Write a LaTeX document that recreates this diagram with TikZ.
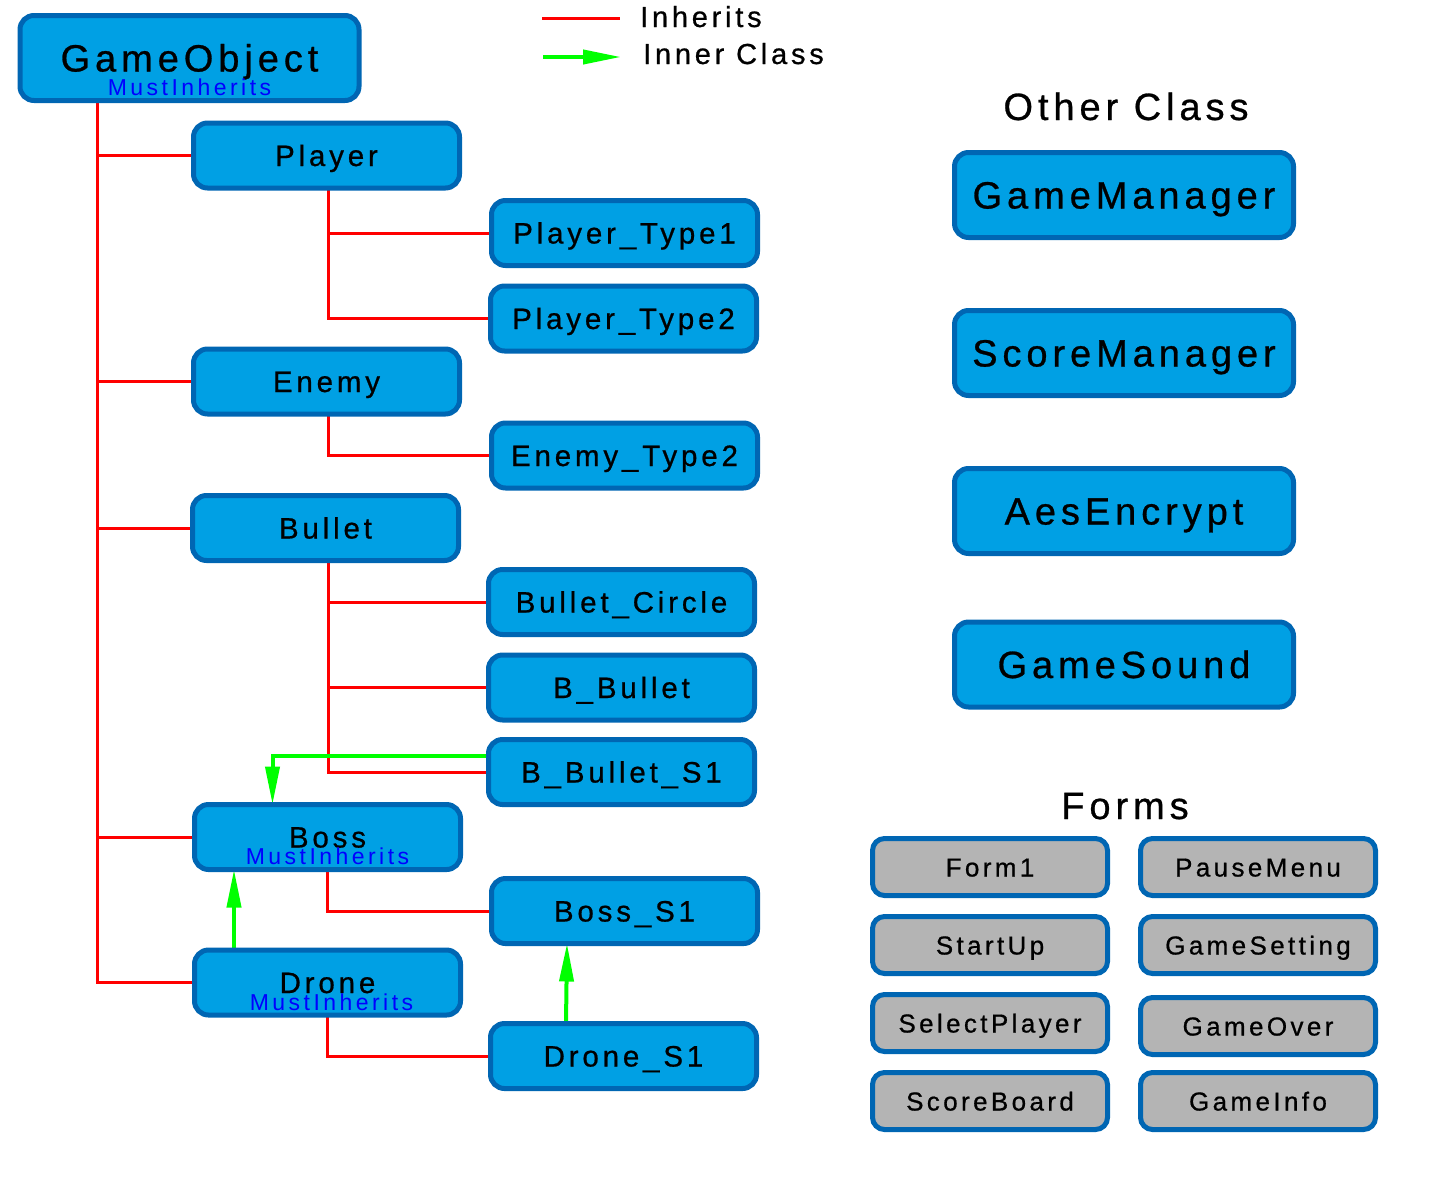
\documentclass[tikz,border=0pt]{standalone}
\usepackage{fontspec}
\setmainfont{Liberation Sans}[LetterSpace=13,FakeBold=0.7]
\newfontfamily\mustfont{Liberation Sans}[LetterSpace=15]
\usetikzlibrary{arrows.meta,backgrounds}
\definecolor{nfill}{RGB}{0,160,228}
\definecolor{nborder}{RGB}{0,102,179}
\definecolor{ffill}{RGB}{180,180,180}
\definecolor{inhred}{RGB}{255,0,0}
\definecolor{innergreen}{RGB}{0,255,0}
\definecolor{mblue}{RGB}{0,0,255}
\begin{document}
\begin{tikzpicture}[x=1pt,y=-1pt,
 classbox/.style={draw=nborder, fill=nfill, line width=5pt, rounded corners=14pt, text depth=0pt, inner sep=0pt, outer sep=0pt},
 subbox/.style={classbox, minimum width=266pt, minimum height=65pt, text height=21pt, font=\fontsize{29.5}{32}\selectfont},
 bigbox/.style={classbox, minimum width=339pt, minimum height=85pt, text height=27pt, font=\fontsize{38}{42}\selectfont},
 formbox/.style={classbox, fill=ffill, minimum width=235pt, minimum height=57pt, rounded corners=12pt, text height=19pt, font=\fontsize{26}{28}\selectfont},
 mustlbl/.style={anchor=base, text=mblue, inner sep=0pt, font=\mustfont\fontsize{23}{25}\selectfont},
 inh/.style={draw=inhred, line width=3pt},
 innerarr/.style={draw=innergreen, line width=4pt, -{Triangle[length=38pt,width=14pt,fill=innergreen]}},
 ttl/.style={anchor=base, inner sep=0pt, font=\fontsize{38}{40}\selectfont},
 legtxt/.style={anchor=base west, inner sep=0pt, font=\fontsize{29}{30}\selectfont}
]
\useasboundingbox (0,0) rectangle (1440,1200);

% legend
\coordinate (l1a) at (542,18);
\coordinate (l1b) at (620,18);
\draw[inh] (l1a) -- (l1b);
\node[legtxt] (linh) at (640,27) {Inherits};
\coordinate (l2a) at (543,57);
\coordinate (l2b) at (621,57);
\draw[innerarr] (l2a) -- (l2b);
\node[legtxt] (linner) at (643,64) {Inner Class};

% hierarchy
\node[bigbox] (go) at (189.5,58) {GameObject};
\node[mustlbl] (gomust) at ([yshift=5.5pt]go.south) {MustInherits};
\node[subbox] (player) at (326.5,155.5) {Player};
\node[subbox] (pt1) at (624.5,233) {Player\_Type1};
\node[subbox] (pt2) at (623.5,318.5) {Player\_Type2};
\node[subbox] (enemy) at (326.5,381.5) {Enemy};
\node[subbox] (et2) at (624.5,455.5) {Enemy\_Type2};
\node[subbox] (bullet) at (325.5,528) {Bullet};
\node[subbox] (bc) at (621.5,602) {Bullet\_Circle};
\node[subbox] (bb) at (621.5,687.5) {B\_Bullet};
\node[subbox] (bbs1) at (621.5,772) {B\_Bullet\_S1};
\node[subbox] (boss) at (327.5,837) {Boss};
\node[mustlbl] (bossmust) at ([yshift=5pt]boss.south) {MustInherits};
\node[subbox] (bs1) at (624.5,911) {Boss\_S1};
\node[subbox] (drone) at (327.5,982.5) {Drone};
\node[mustlbl] (dronemust) at ([xshift=4pt,yshift=5pt]drone.south) {MustInherits};
\node[subbox] (ds1) at (623.5,1056) {Drone\_S1};

% other classes
\node[ttl] (othertitle) at (1126,120) {Other Class};
\node[bigbox] (gm) at (1124,195) {GameManager};
\node[bigbox] (sm) at (1124,353) {ScoreManager};
\node[bigbox] (aes) at (1124,511) {AesEncrypt};
\node[bigbox] (gs) at (1124,664.5) {GameSound};

% forms
\node[ttl] (formstitle) at (1125,819) {Forms};
\node[formbox] (f1) at (990,867) {Form1};
\node[formbox] (pm) at (1258,867) {PauseMenu};
\node[formbox] (su) at (990,945) {StartUp};
\node[formbox] (gset) at (1258,945) {GameSetting};
\node[formbox] (sp) at (990,1023) {SelectPlayer};
\node[formbox] (gov) at (1258,1026) {GameOver};
\node[formbox] (sb) at (990,1101) {ScoreBoard};
\node[formbox] (gi) at (1258,1101) {GameInfo};

\begin{scope}[on background layer]
\coordinate (trunk) at (97,100);
\draw[inh] (trunk) |- (drone.west);
\foreach \n in {player,enemy,bullet,boss} \draw[inh] (trunk |- \n.west) -- (\n.west);
\draw[inh] ([xshift=1.5pt]player.south) |- (pt2.west);
\draw[inh] ([xshift=1.5pt]player.south) |- (pt1.west);
\draw[inh] ([xshift=1.5pt]enemy.south) |- (et2.west);
\draw[inh] ([xshift=2.5pt]bullet.south) |- (bbs1.west);
\draw[inh] ([xshift=2.5pt]bullet.south) |- (bc.west);
\draw[inh] ([xshift=2.5pt]bullet.south) |- (bb.west);
\draw[inh] (boss.south) |- (bs1.west);
\draw[inh] (drone.south) |- (ds1.west);
\draw[innerarr] ([yshift=16pt]bbs1.west) -| ([xshift=-55pt]boss.north);
\draw[innerarr] ([xshift=-93.5pt]drone.north) -- ([xshift=-93.5pt]boss.south);
\draw[innerarr] ([xshift=-57.5pt]ds1.north) -- ([xshift=-57.5pt]bs1.south);
\end{scope}
\end{tikzpicture}
\end{document}
